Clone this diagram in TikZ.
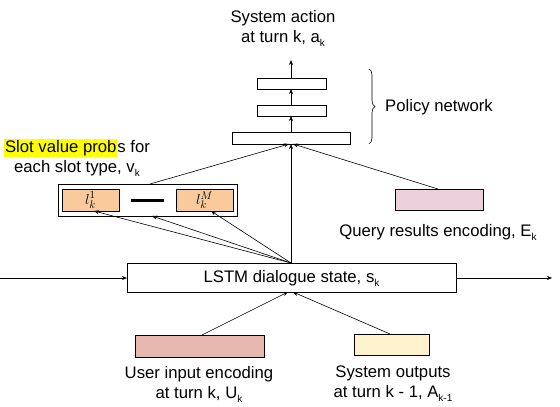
\documentclass[tikz,border=0pt]{standalone}
\usepackage{fontspec}
\setmainfont{Liberation Sans}
\usetikzlibrary{arrows.meta,decorations.pathreplacing}
\definecolor{userc}{RGB}{230,184,175}
\definecolor{sysc}{RGB}{255,242,204}
\definecolor{queryc}{RGB}{234,209,220}
\definecolor{slotc}{RGB}{249,203,156}
\definecolor{hlc}{RGB}{255,255,0}
\newcommand\subk[1]{\raisebox{-0.45ex}{\fontsize{10}{10}\selectfont #1}}
\begin{document}
\begin{tikzpicture}[x=1pt,y=-1pt,
  box/.style={draw=black, line width=0.8pt, inner sep=0pt, outer sep=0pt},
  lbl/.style={align=center, inner sep=0pt, font=\fontsize{16.7}{20}\selectfont},
  arr/.style={-{Stealth[length=5pt,width=4pt]}, line width=0.6pt},
  ln/.style={line width=0.6pt}]
\useasboundingbox (0,0) rectangle (560,407);
% LSTM
\node[box, minimum width=329pt, minimum height=29pt] (lstm) at (291.5,277.5) {};
\node[lbl] (lstmt) at (291.5,278) {LSTM dialogue state, s\subk{k}};
\coordinate (lin) at (0,278);
\coordinate (rout) at (552,278);
\draw[arr] (lin) -- (lin -| lstm.west);
\draw[arr] (lstm.east |- rout) -- (rout);
% inputs
\node[box, fill=userc, minimum width=129pt, minimum height=22pt] (user) at (199.5,346) {};
\node[box, fill=sysc, minimum width=75pt, minimum height=21pt] (sys) at (391.5,344.5) {};
\node[lbl] (usert) at (199,384) {User input encoding\\at turn k, U\subk{k}};
\node[lbl] (syst) at (393,384) {System outputs\\at turn k - 1, A\subk{k-1}};
\coordinate (lb1) at (288,292);
\coordinate (lb2) at (293,292);
\draw[arr] (user.north -| 202,0) -- (lb1);
\draw[arr] (sys.north -| 390,0) -- (lb2);
% policy network
\node[box, minimum width=118pt, minimum height=12pt] (p1) at (291,138) {};
\node[box, minimum width=69pt, minimum height=11pt] (p2) at (291.5,110.5) {};
\node[box, minimum width=69pt, minimum height=11pt] (p3) at (291.5,83.5) {};
\coordinate (top) at (291,60);
\draw[arr] (291,132) -- (291,116);
\draw[arr] (291,105) -- (291,89);
\draw[arr] (291,78) -- (top);
\node[lbl] (title) at (283,28.5) {System action\\at turn k, a\subk{k}};
\draw[line width=0.6pt, decorate, decoration={brace, amplitude=6pt}] (369,69) -- (369,144);
\node[lbl, anchor=west] (pnt) at (385,107) {Policy network};
% query
\node[box, fill=queryc, minimum width=88pt, minimum height=21pt] (query) at (439,199.5) {};
\node[lbl] (queryt) at (438,232) {Query results encoding, E\subk{k}};
% slots
\node[box, minimum width=179pt, minimum height=32pt] (slot) at (147.5,200) {};
\node[box, fill=slotc, minimum width=57pt, minimum height=22pt] (l1) at (90.5,200) {\fontsize{15}{15}\selectfont$l_k^1$};
\node[box, fill=slotc, minimum width=57pt, minimum height=22pt] (lM) at (204.5,200) {\fontsize{15}{15}\selectfont$l_k^M$};
\draw[line width=3pt] (l1.east -| 131,0) -- (lM.west -| 164,0);
\node[lbl] (slott) at (77,157.5) {{\setlength\fboxsep{1pt}\colorbox{hlc}{Slot value prob}}s for\\each slot type, v\subk{k}};
% connections to policy
\coordinate (lt) at (291,263);
\draw[arr] (lt) -- (p1.south);
\draw[arr] (slot.north -| 150,0) -- (289,144);
\draw[arr] (query.north -| 438,0) -- (293,144);
% LSTM to slots
\draw[arr] (lt) -- (l1.south -| 94,0);
\draw[arr] (lt) -- (slot.south -| 152,0);
\draw[arr] (lt) -- (lM.south -| 211,0);
\end{tikzpicture}
\end{document}
